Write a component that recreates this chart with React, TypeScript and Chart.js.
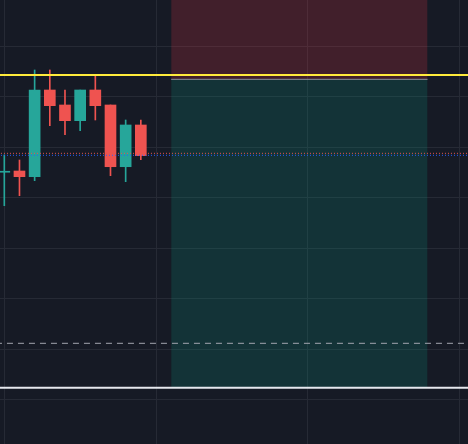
import React, { useEffect, useRef } from "react";
import { Chart, registerables } from "chart.js";

Chart.register(...registerables);

// Candles (bar index on x, price on y)
const candleIndex = [0, 1, 2, 3, 4, 5, 6, 7, 8, 9];
const opens = [105.5, 105.525, 105.412, 107.129, 106.832, 106.521, 107.129, 106.832, 105.61, 106.436];
const closes = [105.52, 105.412, 107.129, 106.818, 106.521, 107.129, 106.818, 105.61, 106.436, 105.828];
const highs = [105.842, 105.743, 107.525, 107.525, 107.129, 107.129, 107.426, 106.832, 106.535, 106.535];
const lows = [104.838, 105.036, 105.333, 106.422, 106.244, 106.323, 106.535, 105.432, 105.313, 105.749];

// Position tool (short): stop zone above entry, target zone below
const boxStartIndex = 11;
const boxEndIndex = 27.9;
const stopTop = 110;
const entryPrice = 107.34;
const targetPrice = 101.234;

// Horizontal levels
const yellowLevel = 107.426;
const dashedLevel = 102.113;
const redDottedLevel = 105.875;
const blueDottedLevel = 105.836;
const whiteLevel = 101.234;

// Visible window
const xMin = -0.2835;
const xMax = 30.567;
const yMin = 100.119;
const yMax = 108.911;

const TEAL = "#26a69a";
const RED = "#ef5350";
const BG = "#161a25";
const GRID = "#262a35";

function hLine(level: number, color: string, width: number, dash: number[], order: number, from = -2, to = 33) {
  return {
    type: "line" as const,
    data: [
      { x: from, y: level },
      { x: to, y: level },
    ],
    borderColor: color,
    borderWidth: width,
    borderDash: dash,
    pointRadius: 0,
    fill: false,
    tension: 0,
    order,
  };
}

export default function App() {
  const ref = useRef<HTMLCanvasElement | null>(null);

  useEffect(() => {
    if (!ref.current) return;
    const colors = candleIndex.map((_, i) => (closes[i] >= opens[i] ? TEAL : RED));
    const chart = new Chart(ref.current, {
      type: "bar",
      data: {
        datasets: [
          {
            type: "line",
            data: [
              { x: boxStartIndex, y: stopTop },
              { x: boxEndIndex, y: stopTop },
            ],
            borderWidth: 0,
            pointRadius: 0,
            backgroundColor: "rgba(242,54,69,0.2)",
            fill: { value: entryPrice },
            order: 20,
          } as any,
          {
            type: "line",
            data: [
              { x: boxStartIndex, y: entryPrice },
              { x: boxEndIndex, y: entryPrice },
            ],
            borderWidth: 0,
            pointRadius: 0,
            backgroundColor: "rgba(8,153,129,0.2)",
            fill: { value: targetPrice },
            order: 19,
          } as any,
          {
            type: "bar",
            data: candleIndex.map((x, i) => ({ x, y: [lows[i], highs[i]] })),
            backgroundColor: colors,
            borderWidth: 0,
            barThickness: 1,
            grouped: false,
            order: 11,
          } as any,
          {
            type: "bar",
            data: candleIndex.map((x, i) => ({ x, y: [opens[i], closes[i]] })),
            backgroundColor: colors,
            borderWidth: 0,
            barThickness: 11,
            grouped: false,
            order: 10,
          } as any,
          hLine(entryPrice, "#8c8f98", 1, [], 6, boxStartIndex, boxEndIndex),
          hLine(dashedLevel, "#a3a6af", 1, [6, 5], 5),
          hLine(redDottedLevel, "#e8574c", 1, [1, 2], 4),
          hLine(blueDottedLevel, "#2962ff", 1, [1, 2], 3),
          hLine(whiteLevel, "#e6e8ee", 2, [], 2),
          hLine(yellowLevel, "#ffeb3b", 2, [], 1),
        ] as any,
      },
      options: {
        animation: false,
        responsive: false,
        layout: { padding: 0 },
        plugins: { legend: { display: false }, tooltip: { enabled: false } },
        scales: {
          x: {
            type: "linear",
            min: xMin,
            max: xMax,
            offset: false,
            ticks: { display: false, stepSize: 10, includeBounds: false },
            grid: { color: GRID, drawTicks: false, offset: false },
            border: { display: false },
          },
          y: {
            type: "linear",
            min: yMin,
            max: yMax,
            ticks: { display: false, stepSize: 1, includeBounds: false },
            grid: { color: GRID, drawTicks: false },
            border: { display: false },
          },
        },
      } as any,
    });
    return () => chart.destroy();
  }, []);

  return (
    <div style={{ position: "fixed", left: 0, top: 0, width: 468, height: 444, background: BG }}>
      <canvas ref={ref} width={468} height={444} style={{ display: "block" }} />
    </div>
  );
}
